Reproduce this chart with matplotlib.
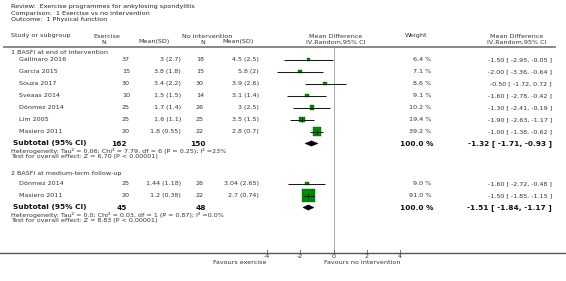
import matplotlib
matplotlib.use("Agg")
import matplotlib.pyplot as plt
from matplotlib.patches import Rectangle, Polygon

# Forest plot data
title_lines = ["Review:  Exercise programmes for ankylosing spondylitis",
               "Comparison:  1 Exercise vs no intervention",
               "Outcome:  1 Physical function"]

group_names = ["1 BASFI at end of intervention", "2 BASFI at medium-term follow-up"]

studies1 = ["Gallinaro 2016", "Garcia 2015", "Souza 2017", "Sveaas 2014",
            "Dönmez 2014", "Lim 2005", "Masiero 2011"]
n_ex1 = [37, 15, 30, 10, 25, 25, 20]
mean_ex1 = [3, 3.8, 3.4, 1.5, 1.7, 1.6, 1.8]
sd_ex1 = [2.7, 1.8, 2.2, 1.5, 1.4, 1.1, 0.55]
n_ctl1 = [18, 15, 30, 14, 26, 25, 22]
mean_ctl1 = [4.5, 5.8, 3.9, 3.1, 3, 3.5, 2.8]
sd_ctl1 = [2.5, 2, 2.6, 1.4, 2.5, 1.5, 0.7]
weight1 = [6.4, 7.1, 8.6, 9.1, 10.2, 19.4, 39.2]
md1 = [-1.50, -2.00, -0.50, -1.60, -1.30, -1.90, -1.00]
lo1 = [-2.95, -3.36, -1.72, -2.78, -2.41, -2.63, -1.38]
hi1 = [-0.05, -0.64, 0.72, -0.42, -0.19, -1.17, -0.62]

studies2 = ["Dönmez 2014", "Masiero 2011"]
n_ex2 = [25, 20]
mean_ex2 = [1.44, 1.2]
sd_ex2 = [1.18, 0.38]
n_ctl2 = [26, 22]
mean_ctl2 = [3.04, 2.7]
sd_ctl2 = [2.65, 0.74]
weight2 = [9.0, 91.0]
md2 = [-1.60, -1.50]
lo2 = [-2.72, -1.85]
hi2 = [-0.48, -1.15]

sub_n_ex = [162, 45]
sub_n_ctl = [150, 48]
sub_md = [-1.32, -1.51]
sub_lo = [-1.71, -1.84]
sub_hi = [-0.93, -1.17]
heterogeneity = ["Heterogeneity: Tau² = 0.06; Chi² = 7.79, df = 6 (P = 0.25); I² =23%",
                 "Heterogeneity: Tau² = 0.0; Chi² = 0.03, df = 1 (P = 0.87); I² =0.0%"]
overall = ["Test for overall effect: Z = 6.70 (P < 0.00001)",
           "Test for overall effect: Z = 8.83 (P < 0.00001)"]

ticks = [-4, -2, 0, 2, 4]

# layout: x in data units of mean difference, y in pixel rows
W, H = 566, 281
X0, PXU = 333.5, 16.67


def col(px):
    return (px - X0) / PXU


fig = plt.figure(figsize=(W / 100, H / 100), dpi=100)
ax = fig.add_axes([0, 0, 1, 1])
ax.set_xlim(col(0), col(W))
ax.set_ylim(H, 0)
ax.axis("off")

FS = 4.6
FSB = 5.3
TXT = "#333333"
GREEN = "#008800"

for i, t in enumerate(title_lines):
    ax.text(col(11), 6.5 + i * 6.5, t, fontsize=FS, color="#222222", va="center")

# headers
h1, h2 = 36, 42
ax.text(col(11), h1, "Study or subgroup", fontsize=FS, color=TXT, va="center")
ax.text(col(107), h1, "Exercise", fontsize=FS, color=TXT, va="center", ha="center")
ax.text(col(104), h2, "N", fontsize=FS, color=TXT, va="center", ha="center")
ax.text(col(154), h2, "Mean(SD)", fontsize=FS, color=TXT, va="center", ha="center")
ax.text(col(207), h1, "No intervention", fontsize=FS, color=TXT, va="center", ha="center")
ax.text(col(203), h2, "N", fontsize=FS, color=TXT, va="center", ha="center")
ax.text(col(238), h2, "Mean(SD)", fontsize=FS, color=TXT, va="center", ha="center")
ax.text(col(336), h1, "Mean Difference", fontsize=FS, color=TXT, va="center", ha="center")
ax.text(col(336), h2, "IV,Random,95% CI", fontsize=FS, color=TXT, va="center", ha="center")
ax.text(col(416), h1, "Weight", fontsize=FS, color=TXT, va="center", ha="center")
ax.text(col(517), h1, "Mean Difference", fontsize=FS, color=TXT, va="center", ha="center")
ax.text(col(517), h2, "IV,Random,95% CI", fontsize=FS, color=TXT, va="center", ha="center")
ax.plot([col(3), col(556)], [47, 47], color="#888888", lw=1.4, solid_capstyle="butt")

# zero line and axis
ax.plot([0, 0], [48, 252], color="#b0b0b0", lw=0.75)
ax.plot([col(0), col(W)], [252.5, 252.5], color="#555555", lw=1.0)
for t in ticks:
    ax.plot([t, t], [249.5, 252], color="#555555", lw=0.6)
    ax.text(t, 257, str(t), fontsize=FS, color=TXT, ha="center", va="center")
ax.text(-4, 263, "Favours exercise", fontsize=FS, color=TXT, ha="right", va="center")
ax.text(4, 263, "Favours no intervention", fontsize=FS, color=TXT, ha="right", va="center")


def study_row(y, name, ne, me, se, nc, mc, sc, w, md, lo, hi):
    ax.text(col(19), y, name, fontsize=FS, color=TXT, va="center")
    ax.text(col(130), y, str(ne), fontsize=FS, color=TXT, va="center", ha="right")
    ax.text(col(181), y, f"{me:g} ({se:g})", fontsize=FS, color=TXT, va="center", ha="right")
    ax.text(col(204), y, str(nc), fontsize=FS, color=TXT, va="center", ha="right")
    ax.text(col(259), y, f"{mc:g} ({sc:g})", fontsize=FS, color=TXT, va="center", ha="right")
    ax.text(col(431), y, f"{w:.1f} %", fontsize=FS, color=TXT, va="center", ha="right")
    ax.text(col(552), y, f"{md:.2f} [ {lo:.2f}, {hi:.2f} ]", fontsize=FS, color=TXT,
            va="center", ha="right")
    side = 1.28 * w ** 0.5
    ax.add_patch(Rectangle((md - side / 2 / PXU, y - side / 2), side / PXU, side,
                           facecolor=GREEN, edgecolor="#006a00", lw=0.3, zorder=2))
    ax.plot([lo, hi], [y, y], color="#1a1a1a", lw=0.75, zorder=3,
            solid_capstyle="butt")
    if side > 5:
        ax.plot([md, md], [y - 2, y + 2], color="#111111", lw=0.5, zorder=3)


def subtotal(y, ne, nc, md, lo, hi, het, ov):
    ax.text(col(13), y, "Subtotal (95% CI)", fontsize=FSB, color="#111111",
            fontweight="bold", va="center")
    ax.text(col(127), y, str(ne), fontsize=FSB, color="#111111", fontweight="bold",
            va="center", ha="right")
    ax.text(col(206), y, str(nc), fontsize=FSB, color="#111111", fontweight="bold",
            va="center", ha="right")
    ax.text(col(433), y, "100.0 %", fontsize=FSB, color="#111111", fontweight="bold",
            va="center", ha="right")
    ax.text(col(552), y, f"{md:.2f} [ {lo:.2f}, {hi:.2f} ]", fontsize=FSB,
            color="#111111", fontweight="bold", va="center", ha="right")
    ax.add_patch(Polygon([[lo, y], [md, y - 2.7], [hi, y], [md, y + 2.7]],
                         closed=True, facecolor="black", edgecolor="black", lw=0.3))
    ax.text(col(11), y + 7, het, fontsize=FS, color=TXT, va="center")
    ax.text(col(11), y + 13, ov, fontsize=FS, color=TXT, va="center")


# group 1
ax.text(col(11), 53, group_names[0], fontsize=FS, color=TXT, va="center")
for i in range(len(studies1)):
    study_row(59.5 + 12 * i, studies1[i], n_ex1[i], mean_ex1[i], sd_ex1[i], n_ctl1[i],
              mean_ctl1[i], sd_ctl1[i], weight1[i], md1[i], lo1[i], hi1[i])
subtotal(143.5, sub_n_ex[0], sub_n_ctl[0], sub_md[0], sub_lo[0], sub_hi[0],
         heterogeneity[0], overall[0])

# group 2
ax.text(col(11), 173, group_names[1], fontsize=FS, color=TXT, va="center")
for i in range(len(studies2)):
    study_row(183.5 + 12 * i, studies2[i], n_ex2[i], mean_ex2[i], sd_ex2[i], n_ctl2[i],
              mean_ctl2[i], sd_ctl2[i], weight2[i], md2[i], lo2[i], hi2[i])
subtotal(207.5, sub_n_ex[1], sub_n_ctl[1], sub_md[1], sub_lo[1], sub_hi[1],
         heterogeneity[1], overall[1])

fig.savefig("out.png", dpi=100)
